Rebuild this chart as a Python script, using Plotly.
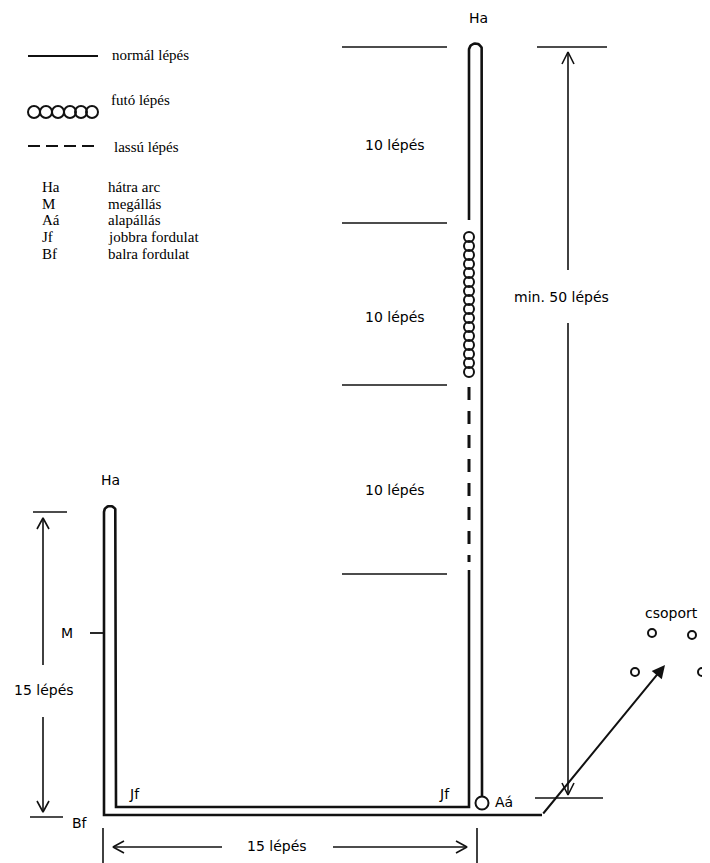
import numpy as np
import plotly.graph_objects as go

W, H = 710, 863
PAD = 8  # default page margin of the html body

# ---------------- legend content ----------------
legend_texts = ["normál lépés", "futó lépés", "lassú lépés"]
legend_text_xy = [(110, 55), (109, 100), (112, 147)]
legend_line_x = [28, 98]
legend_line_y = [56, 56]
legend_circle_x = [34, 46, 58, 70, 81, 92]
legend_circle_y = [112, 112, 112, 112, 112, 112]
legend_dash_x = [28, 98]
legend_dash_y = [146, 146]

abbr_codes = ["Ha", "M", "Aá", "Jf", "Bf"]
abbr_meanings = ["hátra arc", "megállás", "alapállás", "jobbra fordulat", "balra fordulat"]
abbr_y = [187, 204, 220, 237, 254]

# ---------------- course sections ----------------
section_texts = ["10 lépés", "10 lépés", "10 lépés"]
section_text_y = [145, 317, 490]
separator_y = [47, 223, 385, 574]
separator_x = [342, 447]

# running (circles) section, marker centres
run_y = [237, 246, 255, 264, 273, 282, 291, 300, 309, 318, 327, 336, 345, 354, 363, 372]
run_x = [469] * len(run_y)

# ---------------- path geometry ----------------
def arc(cx, cy, r, n=20):
    t = np.linspace(0, np.pi, n)
    return list(cx + r * np.cos(t)), list(cy - r * np.sin(t))

# right loop: up from Aá, about-face, back down
ax1, ay1 = arc(475.5, 50, 6.5)
up_x = [482, 482] + ax1 + [469, 469]
up_y = [797, 50] + ay1 + [50, 220]

slow_x = [469, 469]
slow_y = [387, 562]

# normal part back to Jf, along the bottom, up the left loop and back
lx, ly = arc(110, 512, 6)
back_x = [469, 469, 116, 116] + lx + [104, 104, 542]
back_y = [570, 807, 807, 512] + ly + [512, 815, 815]

fig = go.Figure()

def seg(x, y, w=2.5, dash=None, color="#111"):
    fig.add_trace(go.Scatter(x=x, y=y, mode="lines", hoverinfo="skip",
                             line=dict(color=color, width=w, dash=dash)))

seg(up_x, up_y, 2.6)
seg(back_x, back_y, 2.6)
seg(slow_x, slow_y, 3, dash="13px,11px")
fig.add_trace(go.Scatter(x=run_x, y=run_y, mode="markers", hoverinfo="skip",
                         marker=dict(symbol="circle-open", size=10, color="#111",
                                     line=dict(width=2, color="#111"))))
# Aá circle
fig.add_trace(go.Scatter(x=[482], y=[803], mode="markers", hoverinfo="skip",
                         marker=dict(symbol="circle-open", size=13,
                                     line=dict(width=2, color="#111"), color="#111")))

# separators
for yy in separator_y:
    seg(separator_x, [yy, yy], 1.6)

# right measuring arrow (min. 50 lépés)
seg([537, 607], [47, 47], 1.6)
seg([535, 603], [798, 798], 1.6)
seg([568, 568], [52, 270], 1.6)
seg([568, 568], [323, 795], 1.6)
seg([562, 568, 574], [64, 52, 64], 1.6)
seg([562, 568, 574], [783, 795, 783], 1.6)

# left measuring arrow (15 lépés)
seg([33, 67], [512, 512], 1.6)
seg([30, 63], [817, 817], 1.6)
seg([43, 43], [518, 665], 1.6)
seg([43, 43], [717, 812], 1.6)
seg([37, 43, 49], [529, 518, 529], 1.6)
seg([37, 43, 49], [801, 812, 801], 1.6)
# M tick
seg([90, 104], [633, 633], 1.8)

# bottom measuring arrow (15 lépés)
seg([103, 103], [828, 863], 1.6)
seg([477, 477], [828, 863], 1.6)
seg([113, 222], [847, 847], 1.6)
seg([333, 467], [847, 847], 1.6)
seg([124, 113, 124], [841, 847, 853], 1.6)
seg([456, 467, 456], [841, 847, 853], 1.6)

# group (csoport)
group_x = [652, 692, 635, 702]
group_y = [633, 635, 672, 672]
fig.add_trace(go.Scatter(x=group_x, y=group_y, mode="markers", hoverinfo="skip",
                         cliponaxis=False,
                         marker=dict(symbol="circle-open", size=8,
                                     line=dict(width=2, color="#111"), color="#111")))

# legend marks
seg(legend_line_x, legend_line_y, 2.2)
seg(legend_dash_x, legend_dash_y, 2.2, dash="12px,6px")
fig.add_trace(go.Scatter(x=legend_circle_x, y=legend_circle_y, mode="markers", hoverinfo="skip",
                         marker=dict(symbol="circle-open", size=12,
                                     line=dict(width=2, color="#111"), color="#111")))

sans = dict(family="DejaVu Sans", size=14, color="#000")
serif = dict(family="Liberation Serif", size=15, color="#000")

def txt(x, y, s, font, anchor="center"):
    fig.add_annotation(x=x, y=y, text=s, showarrow=False, font=font,
                       xanchor=anchor, yanchor="middle")

for s, (x, y) in zip(legend_texts, legend_text_xy):
    txt(x, y, s, serif, "left")
for c, m, y in zip(abbr_codes, abbr_meanings, abbr_y):
    txt(40, y, c, serif, "left")
    txt(106, y, m, serif, "left")

for s, y in zip(section_texts, section_text_y):
    txt(395, y, s, sans)

txt(478, 18, "Ha", sans)
txt(110, 480, "Ha", sans)
txt(67, 633, "M", sans)
txt(44, 690, "15 lépés", sans)
txt(80, 823, "Bf", sans)
txt(134, 794, "Jf", sans)
txt(444, 794, "Jf", sans)
txt(504, 802, "Aá", sans)
txt(277, 846, "15 lépés", sans)
txt(561, 297, "min. 50 lépés", sans)
txt(643, 613, "csoport", sans, "left")

# diagonal arrow toward the group
fig.add_annotation(x=665, y=665, ax=542, ay=815, xref="x", yref="y",
                   axref="x", ayref="y", showarrow=True, arrowhead=2,
                   arrowsize=1.3, arrowwidth=2, arrowcolor="#111", text="")

fig.update_layout(width=W - PAD, height=H - PAD, margin=dict(l=0, r=0, t=0, b=0),
                  paper_bgcolor="white", plot_bgcolor="white", showlegend=False)
fig.update_xaxes(range=[PAD, W], visible=False, fixedrange=True)
fig.update_yaxes(range=[H, PAD], visible=False, fixedrange=True)
fig.write_html("out.html")
